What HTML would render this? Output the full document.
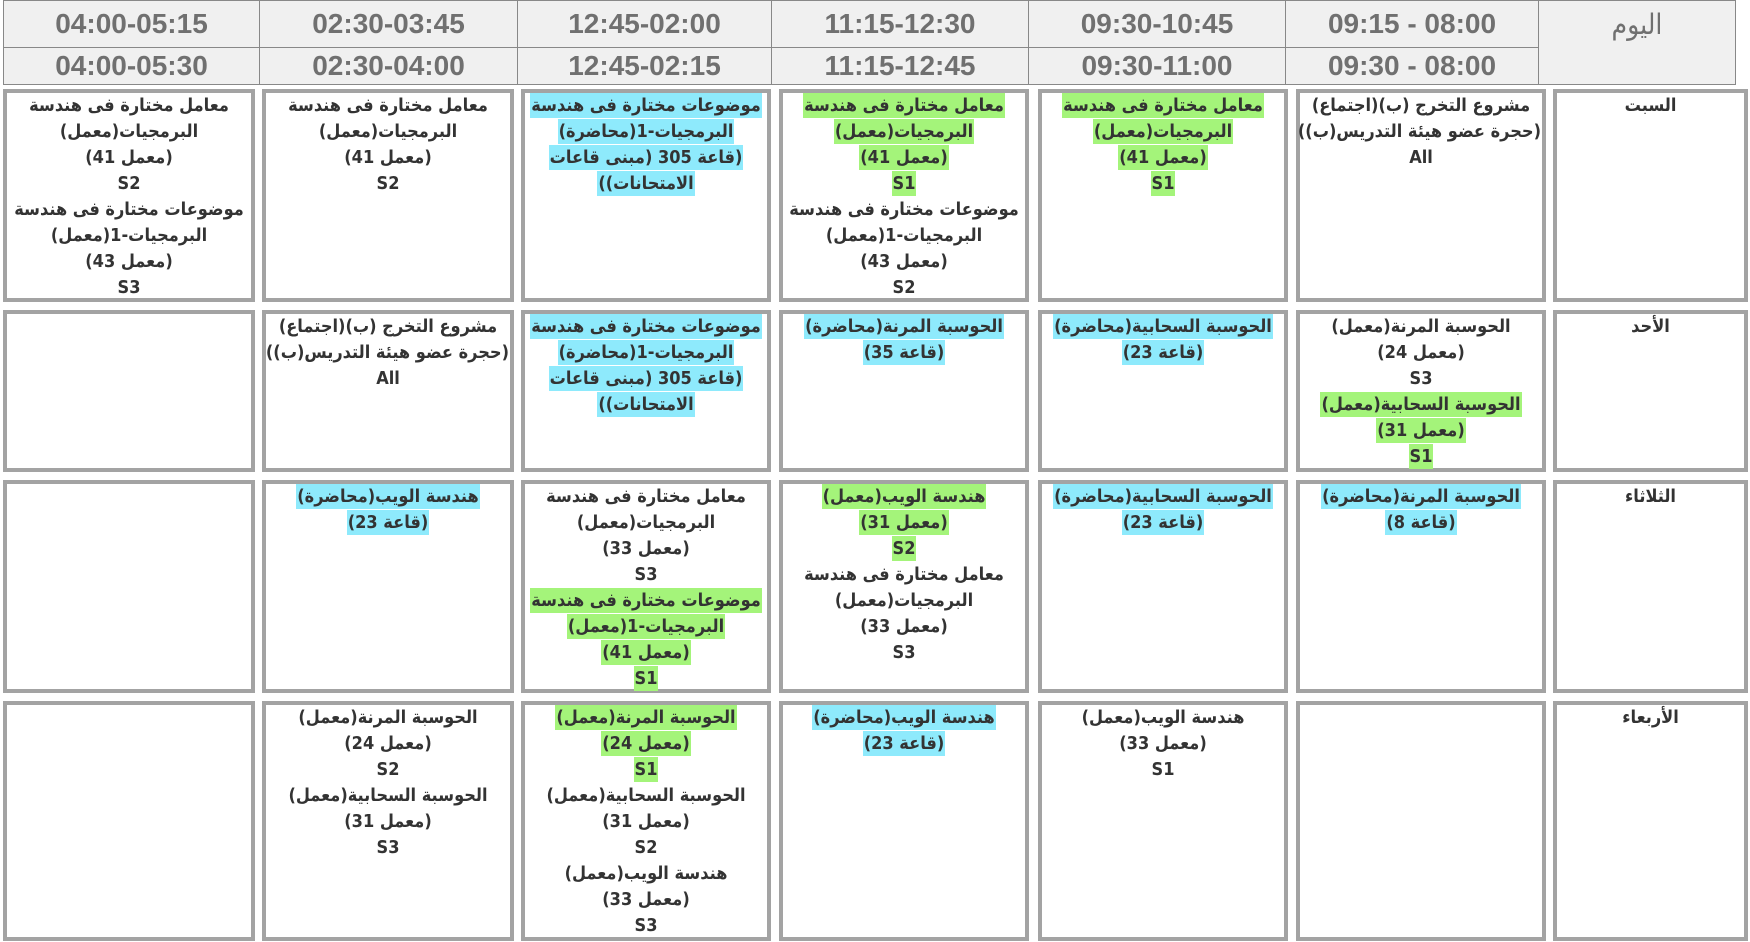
<!DOCTYPE html>
<html><head><meta charset="utf-8"><style>
body{margin:0;width:1750px;height:942px;background:#fff;position:relative;overflow:hidden;font-family:"DejaVu Sans Condensed","DejaVu Sans","Liberation Sans",sans-serif;}
.h{position:absolute;background:#f0f0f0;border:1px solid #888;box-sizing:border-box;color:#707070;font:bold 28px "Liberation Sans",sans-serif;text-align:center;}
.c{position:absolute;border:4px solid #a3a3a3;box-sizing:border-box;background:#fff;direction:rtl;text-align:center;color:#333;font-weight:bold;font-size:18px;line-height:26px;}
.c div{height:26px;white-space:nowrap}
.c span{padding:2px 1px}
.b span{background:#8eeafc}
.g span{background:#a4f47a}
</style></head><body>
<div class="h" style="left:3px;top:0;width:257px;height:48px;line-height:46px">04:00-05:15</div>
<div class="h" style="left:3px;top:47px;width:257px;height:38px;line-height:36px">04:00-05:30</div>
<div class="h" style="left:259px;top:0;width:259px;height:48px;line-height:46px">02:30-03:45</div>
<div class="h" style="left:259px;top:47px;width:259px;height:38px;line-height:36px">02:30-04:00</div>
<div class="h" style="left:517px;top:0;width:255px;height:48px;line-height:46px">12:45-02:00</div>
<div class="h" style="left:517px;top:47px;width:255px;height:38px;line-height:36px">12:45-02:15</div>
<div class="h" style="left:771px;top:0;width:258px;height:48px;line-height:46px">11:15-12:30</div>
<div class="h" style="left:771px;top:47px;width:258px;height:38px;line-height:36px">11:15-12:45</div>
<div class="h" style="left:1028px;top:0;width:258px;height:48px;line-height:46px">09:30-10:45</div>
<div class="h" style="left:1028px;top:47px;width:258px;height:38px;line-height:36px">09:30-11:00</div>
<div class="h" style="left:1285px;top:0;width:254px;height:48px;line-height:46px">09:15 - 08:00</div>
<div class="h" style="left:1285px;top:47px;width:254px;height:38px;line-height:36px">09:30 - 08:00</div>
<div class="h" style="left:1538px;top:0;width:198px;height:85px;line-height:48px;font-weight:normal;font-family:'DejaVu Sans Condensed','DejaVu Sans',sans-serif;font-size:28px">اليوم</div>

<!-- Saturday -->
<div class="c" style="left:3px;top:89px;width:252px;height:213px"><div><span>معامل مختارة فى هندسة</span></div><div><span>البرمجيات(معمل)</span></div><div><span>(معمل 41)</span></div><div><span>S2</span></div><div><span>موضوعات مختارة فى هندسة</span></div><div><span>البرمجيات-1(معمل)</span></div><div><span>(معمل 43)</span></div><div><span>S3</span></div></div>
<div class="c" style="left:262px;top:89px;width:252px;height:213px"><div><span>معامل مختارة فى هندسة</span></div><div><span>البرمجيات(معمل)</span></div><div><span>(معمل 41)</span></div><div><span>S2</span></div></div>
<div class="c b" style="left:521px;top:89px;width:250px;height:213px"><div><span>موضوعات مختارة فى هندسة</span></div><div><span>البرمجيات-1(محاضرة)</span></div><div><span>(قاعة 305 (مبنى قاعات</span></div><div><span>الامتحانات))</span></div></div>
<div class="c" style="left:779px;top:89px;width:250px;height:213px"><div class="g"><span>معامل مختارة فى هندسة</span></div><div class="g"><span>البرمجيات(معمل)</span></div><div class="g"><span>(معمل 41)</span></div><div class="g"><span>S1</span></div><div><span>موضوعات مختارة فى هندسة</span></div><div><span>البرمجيات-1(معمل)</span></div><div><span>(معمل 43)</span></div><div><span>S2</span></div></div>
<div class="c g" style="left:1038px;top:89px;width:250px;height:213px"><div><span>معامل مختارة فى هندسة</span></div><div><span>البرمجيات(معمل)</span></div><div><span>(معمل 41)</span></div><div><span>S1</span></div></div>
<div class="c" style="left:1296px;top:89px;width:250px;height:213px"><div><span>مشروع التخرج (ب)(اجتماع)</span></div><div><span>(حجرة عضو هيئة التدريس(ب))</span></div><div><span>All</span></div></div>
<div class="c" style="left:1553px;top:89px;width:195px;height:213px"><div><span>السبت</span></div></div>

<!-- Sunday -->
<div class="c" style="left:3px;top:310px;width:252px;height:162px"></div>
<div class="c" style="left:262px;top:310px;width:252px;height:162px"><div><span>مشروع التخرج (ب)(اجتماع)</span></div><div><span>(حجرة عضو هيئة التدريس(ب))</span></div><div><span>All</span></div></div>
<div class="c b" style="left:521px;top:310px;width:250px;height:162px"><div><span>موضوعات مختارة فى هندسة</span></div><div><span>البرمجيات-1(محاضرة)</span></div><div><span>(قاعة 305 (مبنى قاعات</span></div><div><span>الامتحانات))</span></div></div>
<div class="c b" style="left:779px;top:310px;width:250px;height:162px"><div><span>الحوسبة المرنة(محاضرة)</span></div><div><span>(قاعة 35)</span></div></div>
<div class="c b" style="left:1038px;top:310px;width:250px;height:162px"><div><span>الحوسبة السحابية(محاضرة)</span></div><div><span>(قاعة 23)</span></div></div>
<div class="c" style="left:1296px;top:310px;width:250px;height:162px"><div><span>الحوسبة المرنة(معمل)</span></div><div><span>(معمل 24)</span></div><div><span>S3</span></div><div class="g"><span>الحوسبة السحابية(معمل)</span></div><div class="g"><span>(معمل 31)</span></div><div class="g"><span>S1</span></div></div>
<div class="c" style="left:1553px;top:310px;width:195px;height:162px"><div><span>الأحد</span></div></div>

<!-- Tuesday -->
<div class="c" style="left:3px;top:480px;width:252px;height:213px"></div>
<div class="c b" style="left:262px;top:480px;width:252px;height:213px"><div><span>هندسة الويب(محاضرة)</span></div><div><span>(قاعة 23)</span></div></div>
<div class="c" style="left:521px;top:480px;width:250px;height:213px"><div><span>معامل مختارة فى هندسة</span></div><div><span>البرمجيات(معمل)</span></div><div><span>(معمل 33)</span></div><div><span>S3</span></div><div class="g"><span>موضوعات مختارة فى هندسة</span></div><div class="g"><span>البرمجيات-1(معمل)</span></div><div class="g"><span>(معمل 41)</span></div><div class="g"><span>S1</span></div></div>
<div class="c" style="left:779px;top:480px;width:250px;height:213px"><div class="g"><span>هندسة الويب(معمل)</span></div><div class="g"><span>(معمل 31)</span></div><div class="g"><span>S2</span></div><div><span>معامل مختارة فى هندسة</span></div><div><span>البرمجيات(معمل)</span></div><div><span>(معمل 33)</span></div><div><span>S3</span></div></div>
<div class="c b" style="left:1038px;top:480px;width:250px;height:213px"><div><span>الحوسبة السحابية(محاضرة)</span></div><div><span>(قاعة 23)</span></div></div>
<div class="c b" style="left:1296px;top:480px;width:250px;height:213px"><div><span>الحوسبة المرنة(محاضرة)</span></div><div><span>(قاعة 8)</span></div></div>
<div class="c" style="left:1553px;top:480px;width:195px;height:213px"><div><span>الثلاثاء</span></div></div>

<!-- Wednesday -->
<div class="c" style="left:3px;top:701px;width:252px;height:240px"></div>
<div class="c" style="left:262px;top:701px;width:252px;height:240px"><div><span>الحوسبة المرنة(معمل)</span></div><div><span>(معمل 24)</span></div><div><span>S2</span></div><div><span>الحوسبة السحابية(معمل)</span></div><div><span>(معمل 31)</span></div><div><span>S3</span></div></div>
<div class="c" style="left:521px;top:701px;width:250px;height:240px"><div class="g"><span>الحوسبة المرنة(معمل)</span></div><div class="g"><span>(معمل 24)</span></div><div class="g"><span>S1</span></div><div><span>الحوسبة السحابية(معمل)</span></div><div><span>(معمل 31)</span></div><div><span>S2</span></div><div><span>هندسة الويب(معمل)</span></div><div><span>(معمل 33)</span></div><div><span>S3</span></div></div>
<div class="c b" style="left:779px;top:701px;width:250px;height:240px"><div><span>هندسة الويب(محاضرة)</span></div><div><span>(قاعة 23)</span></div></div>
<div class="c" style="left:1038px;top:701px;width:250px;height:240px"><div><span>هندسة الويب(معمل)</span></div><div><span>(معمل 33)</span></div><div><span>S1</span></div></div>
<div class="c" style="left:1296px;top:701px;width:250px;height:240px"></div>
<div class="c" style="left:1553px;top:701px;width:195px;height:240px"><div><span>الأربعاء</span></div></div>
</body></html>
